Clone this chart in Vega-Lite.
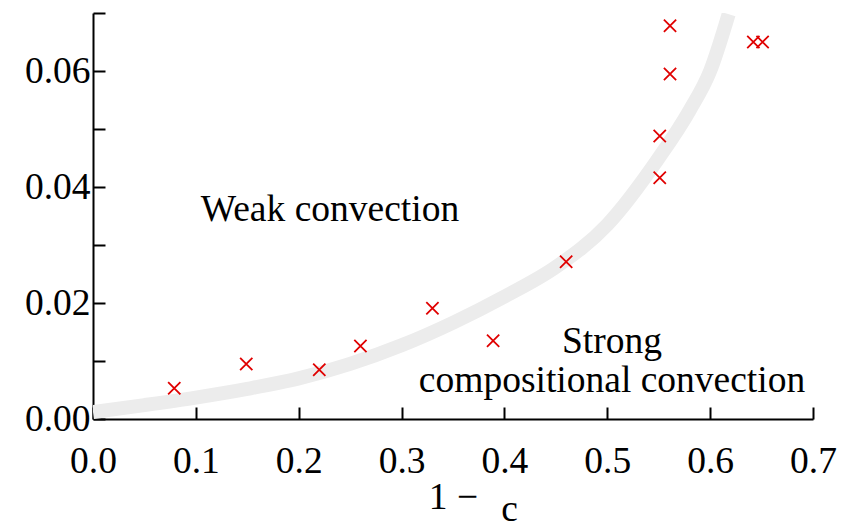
{
  "$schema": "https://vega.github.io/schema/vega-lite/v6.json",
  "width": 720,
  "height": 406,
  "autosize": {"type": "none"},
  "padding": {"left": 93, "top": 13, "right": 35, "bottom": 105},
  "background": "white",
  "config": {
    "view": {"stroke": null},
    "font": "Liberation Serif",
    "axis": {
      "grid": false,
      "domainColor": "black",
      "domainWidth": 2,
      "tickColor": "black",
      "tickWidth": 2,
      "tickSize": -12,
      "labelFont": "Liberation Serif",
      "labelFontSize": 37.5,
      "labelColor": "black",
      "titleFont": "Liberation Serif",
      "titleFontSize": 37.5,
      "titleFontWeight": "normal",
      "titleColor": "black",
      "labelFlush": false,
      "labelOverlap": false
    }
  },
  "datasets": {
    "curve": [
      {"x": 0.0, "y": 0.0012},
      {"x": 0.05, "y": 0.0024},
      {"x": 0.1, "y": 0.0037},
      {"x": 0.15, "y": 0.0052},
      {"x": 0.2, "y": 0.007},
      {"x": 0.25, "y": 0.0095},
      {"x": 0.3, "y": 0.0127},
      {"x": 0.35, "y": 0.0166},
      {"x": 0.4, "y": 0.0211},
      {"x": 0.45, "y": 0.0262},
      {"x": 0.5, "y": 0.0335},
      {"x": 0.55, "y": 0.045},
      {"x": 0.58, "y": 0.0532},
      {"x": 0.6, "y": 0.06},
      {"x": 0.618, "y": 0.0698}
    ],
    "points": [
      {"x": 0.079, "y": 0.0053},
      {"x": 0.149, "y": 0.0095},
      {"x": 0.22, "y": 0.0085},
      {"x": 0.26, "y": 0.0126},
      {"x": 0.33, "y": 0.0191},
      {"x": 0.389, "y": 0.0135},
      {"x": 0.46, "y": 0.0271},
      {"x": 0.551, "y": 0.0488},
      {"x": 0.551, "y": 0.0416},
      {"x": 0.561, "y": 0.0595},
      {"x": 0.561, "y": 0.0678},
      {"x": 0.642, "y": 0.065},
      {"x": 0.651, "y": 0.065}
    ],
    "labels": [
      {"x": 0.2304, "y": 0.0341, "text": "Weak convection"},
      {"x": 0.5046, "y": 0.01138, "text": "Strong"},
      {"x": 0.5046, "y": 0.00466, "text": "compositional convection"}
    ],
    "sub": [
      {"x": 0.405, "y": -0.0175, "text": "c"}
    ]
  },
  "encoding": {
    "x": {
      "field": "x",
      "type": "quantitative",
      "scale": {"domain": [0, 0.7], "nice": false, "zero": false},
      "axis": {
        "values": [0, 0.1, 0.2, 0.3, 0.4, 0.5, 0.6, 0.7],
        "format": ".1f",
        "labelPadding": 35,
        "title": "1 −",
        "titleY": 89,
        "titleBaseline": "alphabetic"
      }
    },
    "y": {
      "field": "y",
      "type": "quantitative",
      "scale": {"domain": [0, 0.07], "nice": false, "zero": false},
      "axis": {
        "values": [0, 0.01, 0.02, 0.03, 0.04, 0.05, 0.06, 0.07],
        "labelExpr": "indexof([0, 0.02, 0.04, 0.06], datum.value) >= 0 ? format(datum.value, '.2f') : ''",
        "labelPadding": 15,
        "title": null
      }
    }
  },
  "layer": [
    {
      "data": {"name": "curve"},
      "mark": {"type": "line", "color": "#ececec", "strokeWidth": 14, "strokeCap": "butt", "interpolate": "monotone", "clip": true}
    },
    {
      "data": {"name": "points"},
      "mark": {"type": "point", "shape": "M-1,-1L1,1M-1,1L1,-1", "filled": false, "stroke": "#e00000", "strokeWidth": 1.8, "size": 150, "opacity": 1}
    },
    {
      "data": {"name": "labels"},
      "mark": {"type": "text", "font": "Liberation Serif", "fontSize": 37.5, "color": "black", "align": "center", "baseline": "alphabetic"},
      "encoding": {"text": {"field": "text"}}
    },
    {
      "data": {"name": "sub"},
      "mark": {"type": "text", "font": "Liberation Serif", "fontSize": 37.5, "color": "black", "align": "center", "baseline": "alphabetic", "clip": false},
      "encoding": {"text": {"field": "text"}}
    }
  ]
}
